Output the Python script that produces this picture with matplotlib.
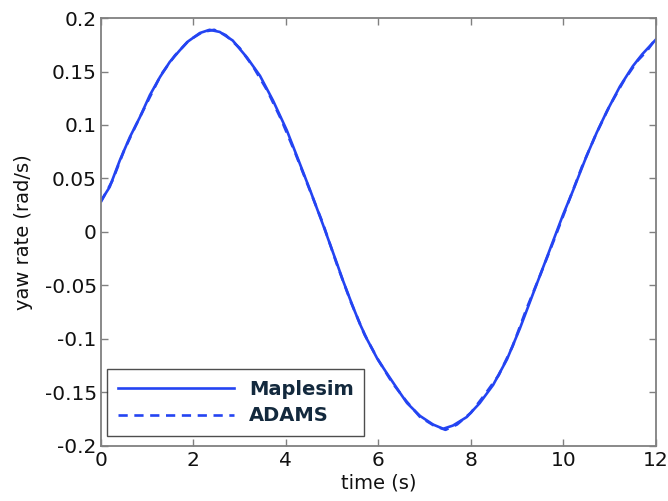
import numpy as np
import matplotlib.pyplot as plt

# DATA
# ----
time_maplesim = [0.0, 0.19, 0.41, 0.63, 0.84, 1.06, 1.28, 1.49, 1.71, 1.88, 2.14, 2.35,
                 2.57, 2.85, 3.16, 3.44, 3.72, 4.02, 4.30, 4.55, 4.80, 4.95, 5.10, 5.23,
                 5.45, 5.60, 5.75, 5.97, 6.18, 6.46, 6.62, 6.90, 7.18, 7.40, 7.61, 7.91,
                 8.19, 8.48, 8.78, 9.06, 9.34, 9.64, 9.99, 10.2, 10.5, 10.72, 10.94, 11.22,
                 11.5, 11.7, 12.0]
yaw_maplesim = [0.029, 0.042, 0.067, 0.089, 0.107, 0.128, 0.145, 0.159, 0.170, 0.178, 0.186, 0.189,
                0.187, 0.179, 0.163, 0.146, 0.123, 0.095, 0.064, 0.036, 0.007, -0.011, -0.029, -0.045,
                -0.070, -0.086, -0.100, -0.118, -0.132, -0.150, -0.160, -0.172, -0.180, -0.184, -0.181, -0.173,
                -0.160, -0.143, -0.119, -0.090, -0.058, -0.024, 0.016, 0.038, 0.071, 0.093, 0.113, 0.136,
                0.155, 0.166, 0.180]

time_adams = [0.0, 0.25, 0.5, 0.75, 1.0, 1.3, 1.6, 1.9, 2.2, 2.45, 2.7, 3.0,
              3.3, 3.6, 3.9, 4.2, 4.5, 4.8, 5.1, 5.4, 5.7, 6.0, 6.3, 6.6,
              6.9, 7.2, 7.45, 7.7, 8.0, 8.3, 8.6, 8.9, 9.2, 9.5, 9.8, 10.1,
              10.4, 10.7, 11.0, 11.3, 11.6, 11.8, 12.0]
yaw_adams = [0.028, 0.048, 0.076, 0.099, 0.121, 0.147, 0.165, 0.179, 0.187, 0.189, 0.184, 0.172,
             0.154, 0.132, 0.105, 0.074, 0.041, 0.008, -0.030, -0.065, -0.096, -0.120, -0.141, -0.158,
             -0.173, -0.181, -0.185, -0.180, -0.169, -0.152, -0.134, -0.107, -0.072, -0.040, -0.007, 0.027,
             0.061, 0.091, 0.118, 0.141, 0.160, 0.169, 0.181]

x_ticks = [0, 2, 4, 6, 8, 10, 12]
y_ticks = [-0.2, -0.15, -0.1, -0.05, 0, 0.05, 0.1, 0.15, 0.2]
y_labels = ['-0.2', '-0.15', '-0.1', '-0.05', '0', '0.05', '0.1', '0.15', '0.2']

# PLOT
# ----
plt.rcParams['font.family'] = ['DejaVu Sans']

fig = plt.figure(figsize=(6.68, 5.01), dpi=100)
ax = fig.add_axes([0.151, 0.110, 0.831, 0.854])

line_color = '#2444f2'
ax.plot(time_maplesim, yaw_maplesim, color=line_color, lw=1.9, label='Maplesim')
ax.plot(time_adams, yaw_adams, color=line_color, lw=1.9, ls=(0, (3.5, 2.5)), label='ADAMS')

ax.set_xlim(0, 12)
ax.set_ylim(-0.2, 0.2)
ax.set_xticks(x_ticks)
ax.set_xticklabels([str(t) for t in x_ticks])
ax.set_yticks(y_ticks)
ax.set_yticklabels(y_labels)

ax.tick_params(direction='in', top=True, right=True, length=5, width=1,
               color='#808080', labelsize=14.5, labelcolor='#111111')
ax.tick_params(axis='y', pad=3)
ax.tick_params(axis='x', pad=4)
for spine in ax.spines.values():
    spine.set_color('#808080')
    spine.set_linewidth(1.3)

ax.set_xlabel('time (s)', fontsize=14, color='#111111', labelpad=2)
ax.set_ylabel('yaw rate (rad/s)', fontsize=14, color='#111111', labelpad=8)

leg = ax.legend(loc='lower left', bbox_to_anchor=(0.011, 0.023), handlelength=6.0,
                fontsize=14, frameon=True, fancybox=False, borderpad=0.55,
                labelspacing=0.38, handletextpad=0.75, borderaxespad=0)
leg.get_frame().set_edgecolor('#222222')
leg.get_frame().set_linewidth(1.0)
for txt in leg.get_texts():
    txt.set_fontweight('bold')
    txt.set_color('#13293d')

fig.savefig('out.png', dpi=100)
